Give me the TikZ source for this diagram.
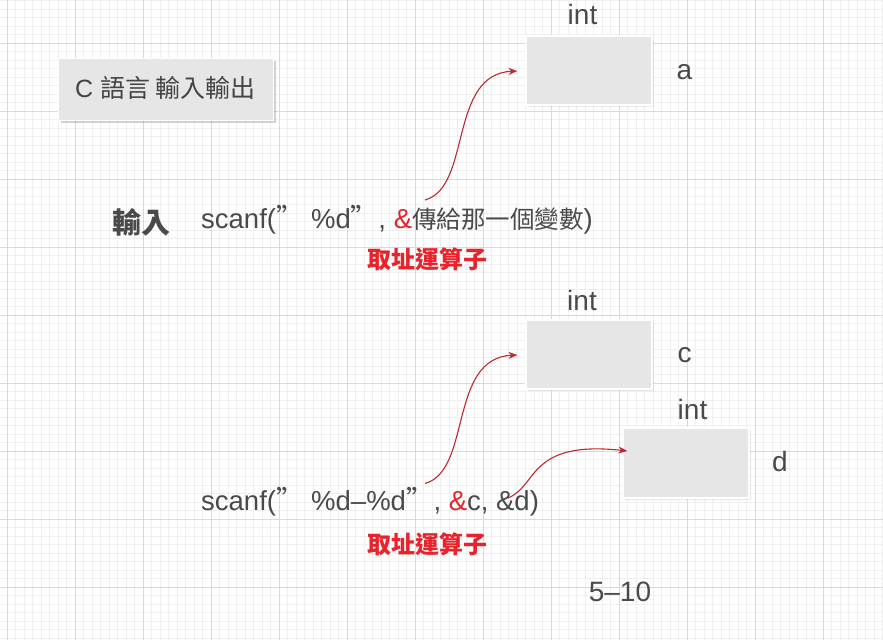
\documentclass[tikz,border=0pt]{standalone}
\usepackage{fontspec}
\setmainfont{Liberation Sans}
\newfontfamily\cjk{Noto Sans CJK TC}
\usetikzlibrary{shadows,calc,arrows.meta}
\definecolor{gridminor}{HTML}{EFEFEF}
\definecolor{gridmajor}{HTML}{D9D9D9}
\definecolor{boxfill}{HTML}{E6E6E6}
\definecolor{txt}{HTML}{4A4A4A}
\definecolor{addr}{HTML}{E8232B}
\definecolor{arrowred}{HTML}{C0282E}
\tikzset{
  membox/.style={rectangle, fill=boxfill, draw=white, line width=1.2pt,
    minimum width=126pt, minimum height=69pt, inner sep=0pt,
    drop shadow={shadow xshift=1.5pt, shadow yshift=-1.5pt, opacity=0.18}},
  titlebox/.style={rectangle, fill=boxfill, draw=white, line width=0.8pt,
    minimum width=215pt, minimum height=62pt, inner sep=0pt,
    drop shadow={shadow xshift=3pt, shadow yshift=-3pt, opacity=0.35}},
  lbl/.style={text=txt, inner sep=0pt, font=\fontsize{28}{32}\selectfont, anchor=base},
  code/.style={text=txt, inner sep=0pt, font=\fontsize{27.5}{32}\selectfont, anchor=base west},
  addrlbl/.style={text=addr, inner sep=0pt, font=\cjk\bfseries\fontsize{24}{28}\selectfont, anchor=center},
  ptr/.style={draw=arrowred, line width=1.1pt, -{Stealth[length=9pt,width=7pt]}}
}
\begin{document}
\begin{tikzpicture}[x=1pt,y=-1pt]
\useasboundingbox (0,0) rectangle (883,640);
\fill[white] (0,0) rectangle (883,640);
% grid
\foreach \i in {0,...,104} {
  \draw[gridminor, line width=0.8pt] ({-1.2+8.5*\i},0) -- ({-1.2+8.5*\i},640);
}
\foreach \i in {0,...,76} {
  \draw[gridminor, line width=0.8pt] (0,{0.8+8.5*\i}) -- (883,{0.8+8.5*\i});
}
\foreach \i in {0,...,12} {
  \draw[gridmajor, line width=1pt] ({7.3+68*\i},0) -- ({7.3+68*\i},640);
}
\foreach \i in {0,...,8} {
  \draw[gridmajor, line width=1pt] (0,{43.3+68*\i}) -- (883,{43.3+68*\i});
}
% title
\node[titlebox] (title) at (165.5,89) {};
\node[lbl, text=txt!90!black, font=\fontsize{25}{28}\selectfont] (titletext) at (165.5,97.5) {C {\cjk 語言 輸入輸出}};
% memory boxes
\node[membox] (a) at (589,70.5) {};
\node[membox] (c) at (589,354.5) {};
\node[membox, minimum height=70pt] (d) at (686,463) {};
\node[lbl] (inta) at (582.5,24.5) {int};
\node[lbl] (na) at (684.5,79) {a};
\node[lbl] (intc) at (582,310) {int};
\node[lbl] (nc) at (684.5,362.5) {c};
\node[lbl] (intd) at (692.5,419.5) {int};
\node[lbl] (nd) at (780,471) {d};
% input line 1
\node[lbl, font=\cjk\bfseries\fontsize{29}{32}\selectfont, anchor=center] (input) at (141,222.5) {輸入};
\node[code] (line1) at (201,228.3) {scanf({\cjk ”} \%d{\cjk ”}, {\color{addr}\&}{\cjk\fontsize{24.5}{28}\selectfont 傳給那一個變數})};
\node[addrlbl] (op1) at (427.5,259.5) {取址運算子};
% input line 2
\node[code] (line2) at (201,510.5) {scanf({\cjk ”} \%d–\%d{\cjk ”}, {\color{addr}\&}c, \&d)};
\node[addrlbl] (op2) at (427.5,544) {取址運算子};
\node[lbl] (page) at (620,601.5) {5–10};
% pointers
\coordinate (s1) at (425,200);
\coordinate (s2) at (425,483.5);
\coordinate (s3) at (508,498);
\draw[ptr] (s1) .. controls (472,187) and (448,74) .. ($(a.west)+(-8,0.5)$);
\draw[ptr] (s2) .. controls (472,470.5) and (448,358) .. ($(c.west)+(-8,0.5)$);
\draw[ptr] (s3) .. controls (538,486) and (528,440) .. ($(d.west)+(5,-12)$);
\end{tikzpicture}
\end{document}
